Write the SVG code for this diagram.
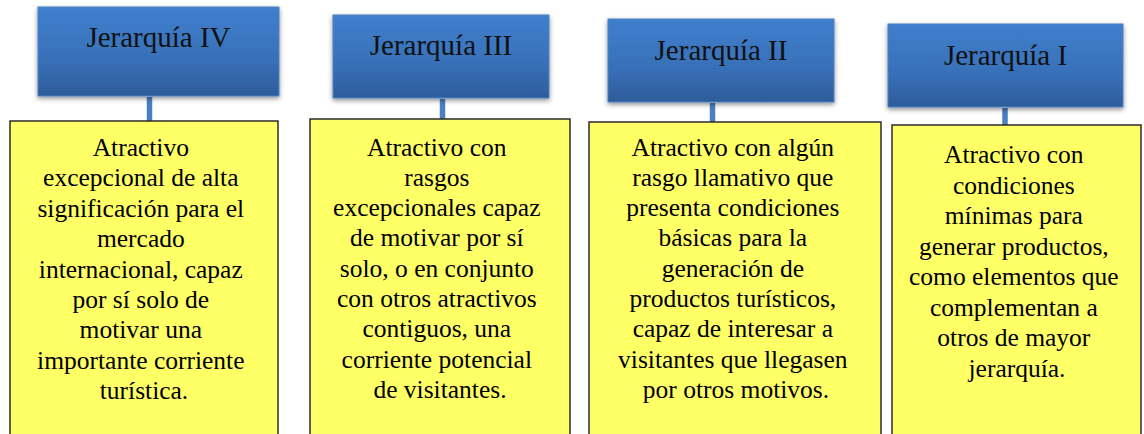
<svg xmlns="http://www.w3.org/2000/svg" width="1144" height="434" viewBox="0 0 1144 434">
<defs>
<linearGradient id="blue" x1="0" y1="0" x2="0" y2="1">
<stop offset="0" stop-color="#3f7fcd"/>
<stop offset="0.6" stop-color="#3870b8"/>
<stop offset="1" stop-color="#2d5c9a"/>
</linearGradient>
<filter id="sh" x="-10%" y="-10%" width="120%" height="130%">
<feGaussianBlur in="SourceAlpha" stdDeviation="2.5"/>
<feOffset dx="0" dy="2" result="b"/>
<feComponentTransfer><feFuncA type="linear" slope="0.45"/></feComponentTransfer>
<feMerge><feMergeNode/><feMergeNode in="SourceGraphic"/></feMerge>
</filter>
</defs>
<style>
.hdr{fill:url(#blue);stroke:#4b82c6;stroke-width:1;filter:url(#sh)}
.hl{font-family:"Liberation Serif","Times New Roman",serif;font-size:29px;fill:#111;text-anchor:middle}
.box{fill:#ffff66;stroke:#2b2b2b;stroke-width:1.5}
.bt{font-family:"Liberation Serif","Times New Roman",serif;font-size:25.5px;fill:#000;text-anchor:middle}
.con{stroke:#4a7fc0;stroke-width:5.5;fill:none}
</style>
<rect width="1144" height="434" fill="#ffffff"/>
<g id="connectors">
<line class="con" x1="149.5" y1="97" x2="149.5" y2="121"/>
<line class="con" x1="442.5" y1="99" x2="442.5" y2="119"/>
<line class="con" x1="712.5" y1="103" x2="712.5" y2="122"/>
<line class="con" x1="1005" y1="108" x2="1005" y2="125"/>
</g>
<g id="h4"><rect class="hdr" x="38" y="7" width="241" height="89"/><text class="hl" x="158.5" y="47">Jerarquía IV</text></g>
<g id="h3"><rect class="hdr" x="333" y="15" width="216" height="83"/><text class="hl" x="441" y="55">Jerarquía III</text></g>
<g id="h2"><rect class="hdr" x="608" y="19" width="226" height="83"/><text class="hl" x="721" y="60">Jerarquía II</text></g>
<g id="h1"><rect class="hdr" x="888" y="24" width="235" height="83"/><text class="hl" x="1005.5" y="65">Jerarquía I</text></g>
<g id="b4">
<rect class="box" x="10" y="121" width="268" height="330"/>
<text class="bt" x="144" y="156">
<tspan x="144" dy="0">Atractivo</tspan>
<tspan x="144" dy="30.4">excepcional de alta</tspan>
<tspan x="144" dy="30.4">significación para el</tspan>
<tspan x="144" dy="30.4">mercado</tspan>
<tspan x="144" dy="30.4">internacional, capaz</tspan>
<tspan x="144" dy="30.4">por sí solo de</tspan>
<tspan x="144" dy="30.4">motivar una</tspan>
<tspan x="144" dy="30.4">importante corriente</tspan>
<tspan x="144" dy="30.4">turística.</tspan>
</text>
</g>
<g id="b3">
<rect class="box" x="310" y="119" width="260" height="330"/>
<text class="bt" x="440" y="155.5">
<tspan x="440" dy="0">Atractivo con</tspan>
<tspan x="440" dy="30.3">rasgos</tspan>
<tspan x="440" dy="30.3">excepcionales capaz</tspan>
<tspan x="440" dy="30.3">de motivar por sí</tspan>
<tspan x="440" dy="30.3">solo, o en conjunto</tspan>
<tspan x="440" dy="30.3">con otros atractivos</tspan>
<tspan x="440" dy="30.3">contiguos, una</tspan>
<tspan x="440" dy="30.3">corriente potencial</tspan>
<tspan x="440" dy="30.3">de visitantes.</tspan>
</text>
</g>
<g id="b2">
<rect class="box" x="589" y="122" width="292" height="330"/>
<text class="bt" x="736" y="155.5">
<tspan x="736" dy="0">Atractivo con algún</tspan>
<tspan x="736" dy="30.3">rasgo llamativo que</tspan>
<tspan x="736" dy="30.3">presenta condiciones</tspan>
<tspan x="736" dy="30.3">básicas para la</tspan>
<tspan x="736" dy="30.3">generación de</tspan>
<tspan x="736" dy="30.3">productos turísticos,</tspan>
<tspan x="736" dy="30.3">capaz de interesar a</tspan>
<tspan x="736" dy="30.3">visitantes que llegasen</tspan>
<tspan x="736" dy="30.3">por otros motivos.</tspan>
</text>
</g>
<g id="b1">
<rect class="box" x="892" y="125" width="249" height="330"/>
<text class="bt" x="1017" y="163">
<tspan x="1017" dy="0">Atractivo con</tspan>
<tspan x="1017" dy="30.5">condiciones</tspan>
<tspan x="1017" dy="30.5">mínimas para</tspan>
<tspan x="1017" dy="30.5">generar productos,</tspan>
<tspan x="1017" dy="30.5">como elementos que</tspan>
<tspan x="1017" dy="30.5">complementan a</tspan>
<tspan x="1017" dy="30.5">otros de mayor</tspan>
<tspan x="1017" dy="30.5">jerarquía.</tspan>
</text>
</g>
</svg>
